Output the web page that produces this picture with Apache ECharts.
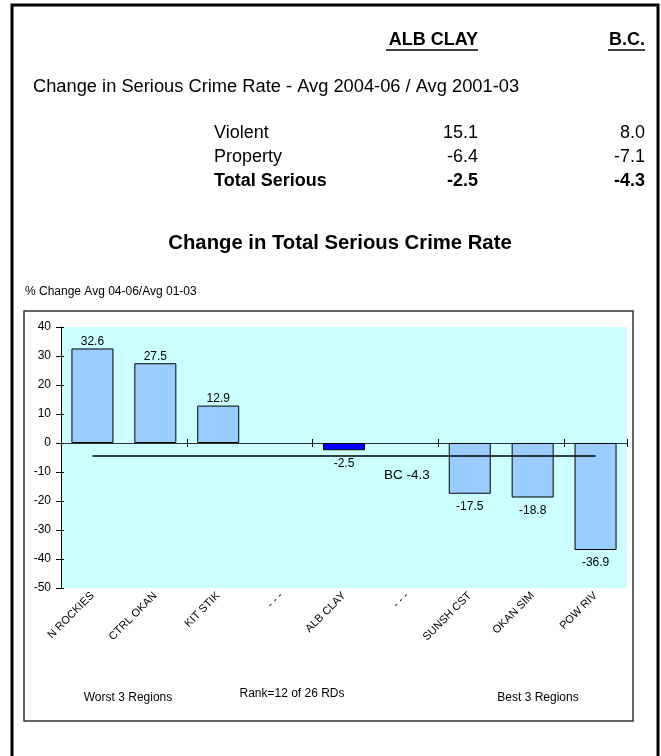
<!DOCTYPE html>
<html>
<head>
<meta charset="utf-8">
<script src="https://cdn.jsdelivr.net/npm/echarts@6/dist/echarts.min.js"></script>
<style>
html,body{margin:0;padding:0;background:#fff;}
#c{width:661px;height:756px;}
</style>
</head>
<body>
<div id="c"></div>
<script>
// ---- data ----
const categories = ['N ROCKIES','CTRL OKAN','KIT STIK','- - -','ALB CLAY','- - -','SUNSH CST','OKAN SIM','POW RIV'];
const values = [32.6, 27.5, 12.9, null, -2.5, null, -17.5, -18.8, -36.9];
const highlightIndex = 4;
const bcValue = -4.3;
const bcLabel = 'BC -4.3';
const yTicks = [-50,-40,-30,-20,-10,0,10,20,30,40];
const tableRows = ['Violent','Property','Total Serious'];
const albValues = ['15.1','-6.4','-2.5'];
const bcValues = ['8.0','-7.1','-4.3'];
const bottomNotes = ['Worst 3 Regions','Rank=12 of 26 RDs','Best 3 Regions'];

const FONT = 'Liberation Sans, Arial, sans-serif';
const chart = echarts.init(document.getElementById('c'));

const barData = values.map((v,i)=>({
  value: v,
  itemStyle: { color: i===highlightIndex ? '#0000FF' : '#99CCFF' },
  label: { position: (v!==null && v<0) ? 'bottom' : 'top' }
}));

const graphics = [
  {type:'rect', shape:{x:12,y:5,width:646,height:800}, style:{fill:'none',stroke:'#000',lineWidth:3}, silent:true},
  {type:'rect', shape:{x:24,y:311,width:609,height:410}, style:{fill:'none',stroke:'#333',lineWidth:1.5}, silent:true, z:-1},
  {type:'text', style:{text:'ALB CLAY', x:478, y:40, align:'right', verticalAlign:'middle', font:'bold 18px '+FONT, fill:'#000'}},
  {type:'text', style:{text:'B.C.', x:645, y:40, align:'right', verticalAlign:'middle', font:'bold 18px '+FONT, fill:'#000'}},
  {type:'line', shape:{x1:386,y1:50,x2:478,y2:50}, style:{stroke:'#000',lineWidth:1.3}},
  {type:'line', shape:{x1:608,y1:50,x2:645,y2:50}, style:{stroke:'#000',lineWidth:1.3}},
  {type:'text', style:{text:'Change in Serious Crime Rate - Avg 2004-06 / Avg 2001-03', x:33, y:87, verticalAlign:'middle', font:'18.3px '+FONT, fill:'#000'}},
  {type:'text', style:{text:'Change in Total Serious Crime Rate', x:340, y:243, align:'center', verticalAlign:'middle', font:'bold 20.3px '+FONT, fill:'#000'}},
  {type:'text', style:{text:'% Change Avg 04-06/Avg 01-03', x:25, y:292, verticalAlign:'middle', font:'12px '+FONT, fill:'#000'}},
  {type:'text', style:{text:bottomNotes[0], x:128, y:698, align:'center', verticalAlign:'middle', font:'12px '+FONT, fill:'#000'}},
  {type:'text', style:{text:bottomNotes[1], x:292, y:694, align:'center', verticalAlign:'middle', font:'12px '+FONT, fill:'#000'}},
  {type:'text', style:{text:bottomNotes[2], x:538, y:698, align:'center', verticalAlign:'middle', font:'12px '+FONT, fill:'#000'}}
];
const rowY = [133,157,181];
tableRows.forEach((r,i)=>{
  const f = (i===2?'bold ':'')+'18px '+FONT;
  graphics.push({type:'text', style:{text:r, x:214, y:rowY[i], verticalAlign:'middle', font:f, fill:'#000'}});
  graphics.push({type:'text', style:{text:albValues[i], x:478, y:rowY[i], align:'right', verticalAlign:'middle', font:f, fill:'#000'}});
  graphics.push({type:'text', style:{text:bcValues[i], x:645, y:rowY[i], align:'right', verticalAlign:'middle', font:f, fill:'#000'}});
});

const yMin = yTicks[0], yMax = yTicks[yTicks.length-1];
const option = {
  animation:false,
  textStyle:{fontFamily:FONT},
  graphic: graphics,
  grid:{left:61, top:327, right:34, bottom:168, show:true, backgroundColor:'#CCFFFF', borderWidth:0},
  xAxis:[
    {type:'category', data:categories, position:'bottom',
     axisLine:{show:false, onZero:false}, axisTick:{show:false},
     axisLabel:{rotate:45, fontSize:11, color:'#000', margin:6, interval:0, fontFamily:FONT}},
    {type:'category', data:categories, position:'bottom',
     axisLine:{show:true, onZero:true, onZeroAxisIndex:0, lineStyle:{color:'#333', width:1}},
     axisTick:{show:true, inside:false, length:4, lineStyle:{color:'#000'}},
     axisLabel:{show:false}},
    {type:'category', data:categories, position:'bottom',
     axisLine:{show:false, onZero:true, onZeroAxisIndex:1},
     axisTick:{show:true, inside:true, length:4, lineStyle:{color:'#000'}},
     axisLabel:{show:false}}
  ],
  yAxis:[
    {type:'value', min:yMin, max:yMax, interval:10, position:'left',
     axisLine:{show:true, onZero:false, lineStyle:{color:'#000'}},
     axisTick:{show:true, length:5, lineStyle:{color:'#000'}},
     splitLine:{show:false},
     axisLabel:{fontSize:12, color:'#000', margin:10, fontFamily:FONT}},
    {type:'value', min:yMin, max:yMax, interval:10, position:'left',
     axisLine:{show:false, onZero:false},
     axisTick:{show:true, inside:true, length:3, lineStyle:{color:'#000'}},
     splitLine:{show:false},
     axisLabel:{show:false}}
  ],
  series:[{
    type:'bar', xAxisIndex:1, yAxisIndex:0, data:barData, barWidth:42,
    itemStyle:{borderColor:'#000', borderWidth:1},
    label:{show:true, fontSize:12, color:'#000', distance:4, offset:[0,3], formatter:p=>p.value==null?'':p.value.toFixed(1), fontFamily:FONT},
    markLine:{silent:true, symbol:'none', label:{show:false},
      lineStyle:{color:'#000', width:1.5, type:'solid'},
      data:[[{coord:[0,bcValue]},{coord:[categories.length-1,bcValue]}]]},
    markPoint:{symbol:'circle', symbolSize:0,
      label:{show:true, formatter:bcLabel, fontSize:13.5, color:'#000', offset:[0,20], fontFamily:FONT},
      itemStyle:{color:'transparent'},
      data:[{coord:[5,bcValue]}]}
  }]
};
chart.setOption(option);
</script>
</body>
</html>
